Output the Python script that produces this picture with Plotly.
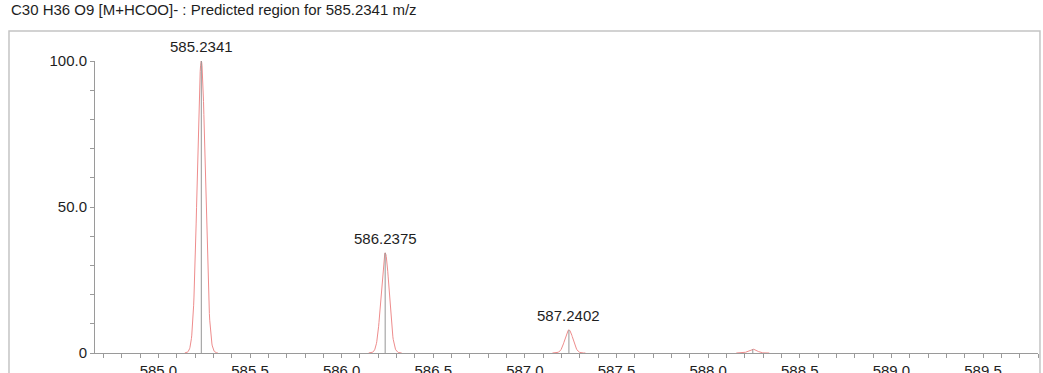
import numpy as np
import plotly.graph_objects as go

# Predicted isotope pattern for C30 H36 O9 [M+HCOO]-
peak_mz = [585.2341, 586.2375, 587.2402, 588.2436]
peak_intensity = [100.0, 34.3, 7.9, 1.3]
peak_labels = ["585.2341", "586.2375", "587.2402", ""]

title_text = "C30 H36 O9 [M+HCOO]- : Predicted region for 585.2341 m/z"
y_tick_vals = [0, 50, 100]
y_tick_text = ["0", "50.0", "100.0"]

# Gaussian peak shape used to render the profile around each centroid
profile_sigma = 0.022

FONT = "Liberation Sans, Arial, sans-serif"
AXIS_GRAY = "#9a9a9a"
TEXT = "#1e1e1e"

fig = go.Figure()

# Profile traces (one Gaussian per isotope)
for mz, inten in zip(peak_mz, peak_intensity):
    xs = np.arange(mz - 0.09, mz + 0.09 + 1e-9, 0.002)
    ys = inten * np.exp(-0.5 * ((xs - mz) / profile_sigma) ** 2)
    fig.add_trace(go.Scatter(
        x=xs, y=ys, mode="lines",
        line=dict(color="#ee8c8c", width=1),
        hoverinfo="skip", showlegend=False,
    ))

# Centroid sticks
stick_x, stick_y = [], []
for mz, inten in zip(peak_mz, peak_intensity):
    stick_x += [mz, mz, None]
    stick_y += [0, inten, None]
fig.add_trace(go.Scatter(
    x=stick_x, y=stick_y, mode="lines",
    line=dict(color="#959595", width=1),
    hoverinfo="skip", showlegend=False,
))

# m/z labels above peaks
for mz, inten, lab in zip(peak_mz, peak_intensity, peak_labels):
    if lab:
        fig.add_annotation(
            x=mz, y=inten, text=lab, showarrow=False,
            xanchor="center", yanchor="bottom", yshift=4,
            font=dict(family=FONT, size=15, color=TEXT),
        )

# Title
fig.add_annotation(
    xref="paper", yref="paper", x=-0.0912, y=1.175,
    xanchor="left", yanchor="middle", showarrow=False,
    text=title_text, font=dict(family=FONT, size=15, color=TEXT),
)

# Outer frame
fig.add_shape(
    type="rect", xref="paper", yref="paper",
    x0=-0.0912, x1=1.0021, y0=-0.2, y1=1.1027,
    line=dict(color="#c4c4c4", width=1.5), layer="below",
)

fig.update_layout(
    width=1043, height=373,
    margin=dict(l=95, r=5, t=61, b=20, autoexpand=False),
    paper_bgcolor="white", plot_bgcolor="white",
    font=dict(family=FONT, size=15, color=TEXT),
    showlegend=False,
)

fig.update_xaxes(
    range=[584.654, 589.8], automargin=False,
    tick0=585.0, dtick=0.5, tickformat=".1f",
    ticks="outside", ticklen=4, tickcolor=AXIS_GRAY, tickwidth=1,
    minor=dict(dtick=0.1, tick0=585.0, ticks="outside", ticklen=4,
               tickcolor=AXIS_GRAY, tickwidth=1, showgrid=False),
    showline=True, linecolor=AXIS_GRAY, linewidth=1,
    showgrid=False, zeroline=False,
    tickfont=dict(family=FONT, size=15, color=TEXT),
)
fig.update_yaxes(
    range=[0, 100], automargin=False,
    tickmode="array", tickvals=y_tick_vals, ticktext=y_tick_text,
    ticks="outside", ticklen=4, tickcolor=AXIS_GRAY, tickwidth=1,
    minor=dict(dtick=10, tick0=0, ticks="outside", ticklen=4,
               tickcolor=AXIS_GRAY, tickwidth=1, showgrid=False),
    showline=True, linecolor=AXIS_GRAY, linewidth=1,
    showgrid=False, zeroline=False,
    tickfont=dict(family=FONT, size=15, color=TEXT),
)

fig.write_html("out.html")
